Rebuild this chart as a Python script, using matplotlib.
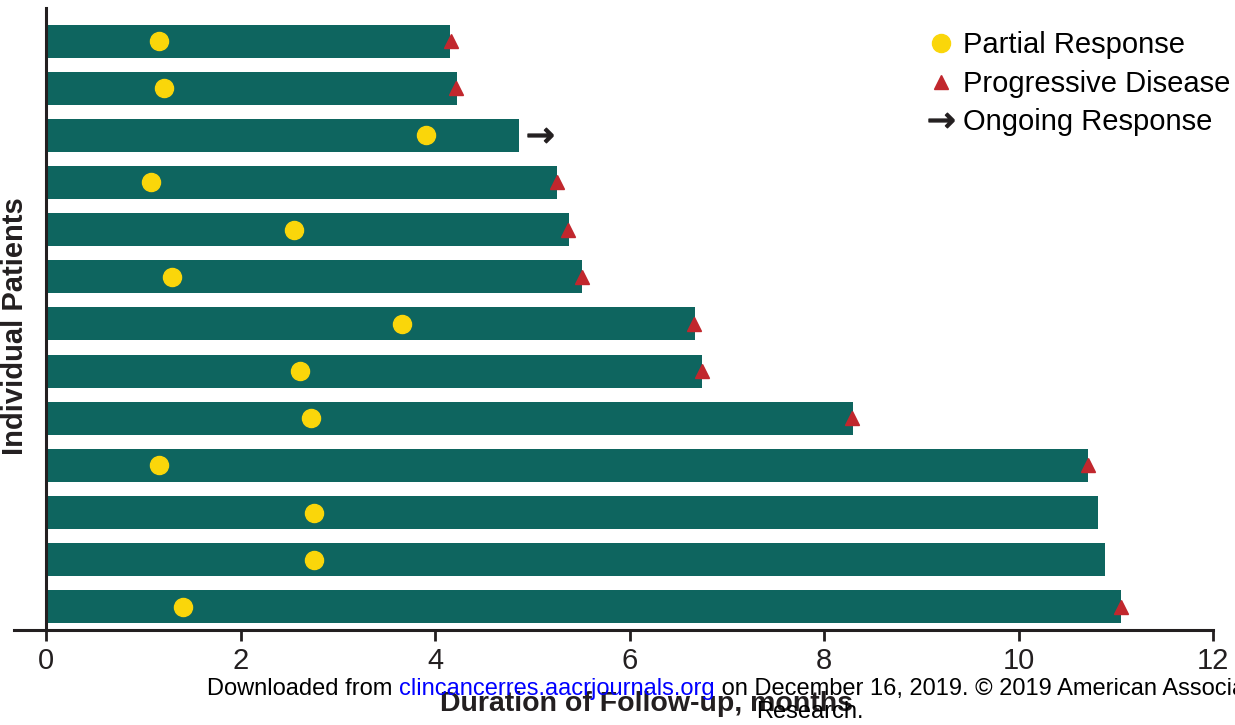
import matplotlib
matplotlib.use("Agg")
from matplotlib import pyplot as plt
import numpy as np

plt.rcParams['font.family'] = ['Liberation Sans', 'DejaVu Sans']

# follow-up per patient, months (top to bottom)
follow_up = [4.15, 4.23, 4.86, 5.25, 5.38, 5.51, 6.67, 6.75, 8.30, 10.71, 10.82, 10.89, 11.05]
partial_resp = [1.16, 1.21, 3.91, 1.08, 2.55, 1.29, 3.66, 2.61, 2.72, 1.16, 2.76, 2.76, 1.41]
prog_disease = [4.16, 4.22, None, 5.25, 5.37, 5.51, 6.66, 6.74, 8.29, 10.71, None, None, 11.05]
ongoing = [None, None, 5.08, None, None, None, None, None, None, None, None, None, None]

teal = '#0e655f'
yellow = '#fad60a'
red = '#c1272d'
dark = '#231f20'

fig = plt.figure(figsize=(12.35, 7.25), dpi=100, facecolor='white')
ax = fig.add_axes([14/1235, 95/725, 1199/1235, 622/725])

rows = np.arange(len(follow_up))
ax.barh(rows, follow_up, height=0.7, color=teal, zorder=1)

ax.plot(partial_resp, rows, 'o', color=yellow, markersize=13, zorder=3, label='Partial Response')

pd_x = [v for v in prog_disease if v is not None]
pd_y = [r for r, v in zip(rows, prog_disease) if v is not None]
ax.plot(pd_x, pd_y, '^', color=red, markersize=10, zorder=3, label='Progressive Disease')

og_x = [v for v in ongoing if v is not None]
og_y = [r for r, v in zip(rows, ongoing) if v is not None]
ax.plot(og_x, og_y, linestyle='none', marker=r'$\rightarrow$', color=dark,
        markersize=18, markeredgewidth=1.0, zorder=3, label='Ongoing Response')

ax.set_xlim(-0.33, 12)
ax.set_ylim(12.49, -0.70)
ax.spines['top'].set_visible(False)
ax.spines['right'].set_visible(False)
ax.spines['left'].set_position(('data', 0))
for s in ('left', 'bottom'):
    ax.spines[s].set_linewidth(2.2)
    ax.spines[s].set_color(dark)
ax.set_yticks([])
ax.set_xticks(range(0, 13, 2))
ax.tick_params(axis='x', direction='out', length=8, width=2, color=dark,
               labelsize=21, pad=4, labelcolor=dark)

ax.legend(loc='upper left', bbox_to_anchor=(0.7623, 0.9624), frameon=False, fontsize=21,
          handletextpad=0.3, handlelength=0.9, labelspacing=0.36, borderpad=0.0,
          borderaxespad=0.0)

fig.text(15/1235, 1 - 326/725, 'Individual Patients', rotation=90, fontsize=21,
         fontweight='bold', ha='center', va='center', color=dark)
fig.text(646/1235, 1 - 704/725, 'Duration of Follow-up, months', fontsize=20.5,
         fontweight='bold', ha='center', va='center', color=dark)

# download watermark overlay
wy = 1 - 689/725
t1 = fig.text(207/1235, wy, 'Downloaded from ', fontsize=17, ha='left', va='center', color='black')
fig.canvas.draw()
bb = t1.get_window_extent()
t2 = fig.text(bb.x1 / fig.bbox.width, wy, 'clincancerres.aacrjournals.org', fontsize=17,
              ha='left', va='center', color='#0000ff')
fig.canvas.draw()
bb = t2.get_window_extent()
fig.text(bb.x1 / fig.bbox.width, wy,
         ' on December 16, 2019. \u00a9 2019 American Association for Cancer', fontsize=17,
         ha='left', va='center', color='black')
fig.text(810/1235, 1 - 712/725, 'Research.', fontsize=17, ha='center', va='center', color='black')

fig.savefig('out.png', dpi=100, facecolor='white')
